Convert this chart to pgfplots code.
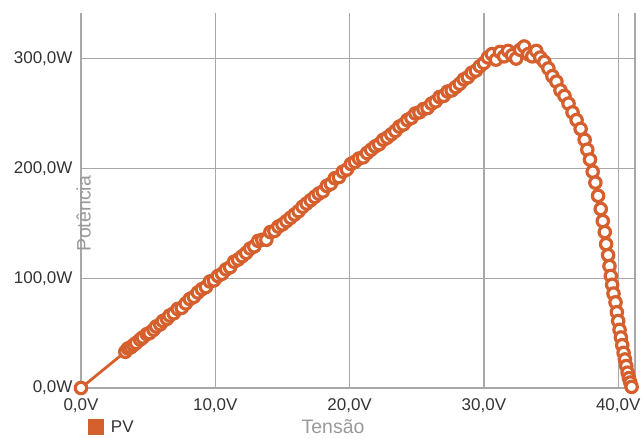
\documentclass[border=0pt]{standalone}
\usepackage{pgfplots}
\pgfplotsset{compat=1.18}
\usepackage{fontspec}
\setmainfont{Liberation Sans}
\definecolor{pvcol}{HTML}{D65F2E}
\definecolor{gridcol}{HTML}{A8A8A8}
\definecolor{tickcol}{HTML}{333333}
\definecolor{labcol}{HTML}{999999}
\pgfplotstableread{
V P
0 0
3.3 33
3.5 36
3.7 37
3.9 39
4.1 41
4.4 44
4.6 46
4.9 49
5.1 50
5.4 53
5.6 56
5.9 58
6.1 61
6.4 63
6.6 66
6.9 68
7.2 72
7.5 73
7.8 77
8.1 81
8.4 83
8.7 87
9.0 90
9.3 92
9.6 97
9.9 98
10.2 102
10.5 104
10.8 108
11.1 110
11.4 115
11.7 117
12.0 120
12.3 123
12.6 127
12.9 129
13.2 134
13.5 135
13.8 135
14.1 142
14.4 143
14.7 147
15.0 149
15.3 152
15.6 155
15.9 158
16.2 161
16.5 165
16.8 168
17.1 171
17.4 174
17.7 177
18.0 179
18.3 184
18.6 186
18.9 191
19.2 192
19.5 197
19.8 199
20.1 204
20.4 206
20.7 209
21.0 210
21.3 214
21.6 217
21.9 220
22.2 222
22.5 226
22.8 228
23.1 231
23.4 234
23.7 238
24.0 240
24.3 244
24.6 246
24.9 250
25.2 251
25.5 254
25.8 255
26.1 259
26.4 261
26.7 265
27.0 266
27.3 270
27.6 271
27.9 274
28.2 277
28.5 281
28.8 283
29.1 287
29.4 289
29.7 293
30.0 296
30.3 301
30.6 304
30.9 299
31.2 306
31.5 302
31.8 307
32.1 303
32.4 300
32.7 308
33.0 311
33.3 304
33.6 302
33.9 307
34.2 301
34.5 297
34.8 291
35.1 284
35.4 279
35.7 271
36.0 266
36.3 259
36.6 251
36.9 244
37.2 236
37.5 226
37.7 217
37.9 208
38.1 197
38.3 187
38.5 175
38.7 163
38.85 152
39.0 142
39.1 131
39.25 121
39.35 111
39.45 102
39.55 94
39.65 86
39.8 78
39.9 69
40.0 61
40.1 53
40.2 46
40.3 39
40.4 32
40.5 26
40.6 20
40.7 14
40.8 9
40.9 5
41.0 1
}\pvdata
\begin{document}
\begin{tikzpicture}
\begin{axis}[
  scale only axis,
  width=554pt, height=375pt,
  xmin=0, xmax=41.25, ymin=0, ymax=341.5,
  clip=false,
  axis line style={draw=none},
  grid=major,
  grid style={gridcol, line width=1.2pt},
  major tick length=0pt,
  xtick={0,10,20,30,40},
  xticklabels={{0,0V},{10,0V},{20,0V},{30,0V},{40,0V}},
  ytick={0,100,200,300},
  yticklabels={{0,0W},{100,0W},{200,0W},{300,0W}},
  extra x ticks={41.25},
  extra x tick labels={},
  extra x tick style={grid=major, major tick length=0pt},
  tick label style={font=\fontsize{17}{19}\selectfont, text=tickcol},
  xticklabel style={anchor=north, yshift=-7pt},
  yticklabel style={anchor=east, xshift=-5pt},
  xlabel={Tensão},
  ylabel={Potência},
  label style={font=\fontsize{19.5}{22}\selectfont, text=labcol},
  xlabel style={at={(axis description cs:0.455,0)}, anchor=base, yshift=-45.5pt},
  ylabel style={at={(axis description cs:0.0175,0.464)}, anchor=base},
  legend style={draw=none, fill=none, at={(axis description cs:0,0)}, anchor=west,
    xshift=7pt, yshift=-39pt, inner sep=0pt,
    font=\fontsize{17}{19}\selectfont, text=tickcol},
  legend image code/.code={\fill[pvcol] (0pt,-6.5pt) rectangle (13pt,6.5pt);},
]
\addplot[pvcol, line width=2.8pt, mark=*, mark size=5.7pt,
  mark options={fill=white, draw=pvcol, line width=3.2pt}] table[x=V, y=P] {\pvdata};
\addlegendentry{\hspace{5pt}PV}
\coordinate (sw) at (rel axis cs:0,0);
\end{axis}
\pgfresetboundingbox
\path ([xshift=-81pt,yshift=-51pt]sw) rectangle ([xshift=562pt,yshift=388pt]sw);
\end{tikzpicture}
\end{document}
